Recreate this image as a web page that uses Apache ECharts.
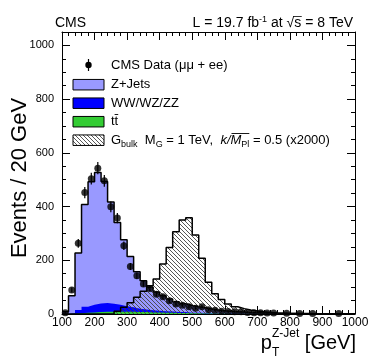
<!DOCTYPE html>
<html>
<head>
<meta charset="utf-8">
<title>Z+Jet pT</title>
<script src="https://cdn.jsdelivr.net/npm/echarts@6/dist/echarts.min.js"></script>
<style>
  html, body { margin: 0; padding: 0; background: #fff; }
  #chart { width: 374px; height: 360px; }
</style>
</head>
<body>
<div id="chart"></div>
<script>
// 20 GeV bins, low edges plus the closing edge at 1000
var binEdges = [100, 120, 140, 160, 180, 200, 220, 240, 260, 280,
  300, 320, 340, 360, 380, 400, 420, 440, 460, 480,
  500, 520, 540, 560, 580, 600, 620, 640, 660, 680,
  700, 720, 740, 760, 780, 800, 820, 840, 860, 880,
  900, 920, 940, 960, 980, 1000]

// backgrounds, stacked bottom to top: ttbar, diboson, Z+jets
var ttbar = [0, 1, 3, 5, 6, 7, 8, 8, 8, 8,
  8, 7, 7, 6, 6, 5, 5, 4, 4, 3,
  3, 2, 2, 2, 1.5, 1, 1, 0.8, 0.7, 0.6,
  0.5, 0.4, 0.3, 0.3, 0.2, 0.2, 0.2, 0.1, 0.1, 0.1,
  0.1, 0.1, 0.1, 0.1, 0.1]
var diboson = [0, 3, 12, 22, 28, 32, 33, 30, 26, 21,
  17, 13, 10, 8, 6, 5, 4, 3, 3, 2,
  2, 1.5, 1, 1, 0.8, 0.7, 0.6, 0.5, 0.4, 0.4,
  0.3, 0.3, 0.2, 0.2, 0.2, 0.2, 0.1, 0.1, 0.1, 0.1,
  0.1, 0.1, 0.1, 0.1, 0.1]
var zjets = [8, 64, 212, 381, 458, 488, 452, 379, 307, 247,
  189, 137, 107, 86, 70, 58, 47, 39, 31, 27,
  22, 19.5, 16, 12, 9.7, 8.3, 6.4, 5.7, 4.9, 4,
  3.2, 2.8, 2.5, 2, 1.6, 1.6, 1.2, 1.2, 1.0, 0.8,
  0.8, 0.6, 0.5, 0.5, 0.4]
// bulk graviton, M = 1 TeV, scaled x2000
var signal = [0, 0, 0, 0, 0, 0, 0, 0, 10, 25,
  42, 62, 85, 105, 130, 186, 248, 306, 350, 358,
  294, 208, 118, 75, 54, 37, 27, 20, 15, 11,
  8, 6, 4, 3, 2, 2, 1, 1, 1, 0.5,
  0.5, 0.5, 0.3, 0.3, 0.2]

// CMS data points (bin centres), with their error bars
var dataX = [110, 130, 150, 170, 190, 210, 230, 250, 270, 290,
  310, 330, 350, 370, 390, 410, 430, 450, 470, 490,
  510, 530, 550, 570, 590, 610, 630, 650, 670, 690,
  710, 730, 750, 790, 830, 870, 950]
var dataY = [5, 89, 263, 452, 504, 543, 496, 399, 357, 254,
  177, 142, 112, 95, 74, 64, 49, 37, 33, 27,
  21, 27, 16, 14, 10, 9, 8, 8, 6, 5,
  5, 4, 4, 3, 2, 2, 2]
var dataErr = [2.2, 9.4, 16, 21, 22, 23, 22, 20, 19, 16,
  13, 12, 11, 10, 8.6, 8, 7, 6, 5.7, 5.2,
  4.6, 5.2, 4, 3.7, 3.2, 3, 2.8, 2.8, 2.4, 2.2,
  2.2, 2, 2, 1.7, 1.4, 1.4, 1.4]

var FONT = 'Liberation Sans'
var measureCtx = document.createElement('canvas').getContext('2d')
function textWidth (str, size, style) {
  measureCtx.font = (style || 'normal') + ' ' + size + 'px "' + FONT + '"'
  return measureCtx.measureText(str).width
}

// step-line points for a histogram, summing the given components per bin
function stepData (comps) {
  let pts = []
  let n = comps[0].length
  let v = 0
  for (let i = 0; i < n; i++) {
    v = 0
    comps.forEach(function (c) { v += c[i] })
    pts.push([binEdges[i], v])
  }
  pts.push([binEdges[n], v])
  return pts
}

// diagonal hatch used for the signal
var hatch = document.createElement('canvas')
hatch.width = 4
hatch.height = 4
var hc = hatch.getContext('2d')
hc.strokeStyle = '#444'
hc.lineWidth = 0.9
hc.beginPath()
hc.moveTo(-1, -1); hc.lineTo(5, 5)
hc.moveTo(-1, 3); hc.lineTo(1, 5)
hc.moveTo(3, -1); hc.lineTo(5, 1)
hc.stroke()
var hatchFill = {image: hatch, repeat: 'repeat'}

function txt (x, y, s, size, extra) {
  let style = {x: x, y: y, text: s, fontSize: size, fontFamily: FONT, fill: '#000',
    align: 'left', verticalAlign: 'middle'}
  if (extra) {
    for (let k in extra) style[k] = extra[k]
  }
  return {type: 'text', z: 100, style: style}
}
function hline (x1, x2, y, w) {
  return {type: 'line', z: 100, shape: {x1: x1, y1: y, x2: x2, y2: y}, style: {stroke: '#000', lineWidth: w || 1}}
}

// lay out pieces left to right: {t, size, dy, style}
function textRun (x, y, parts) {
  let out = []
  let pos = []
  for (let i = 0; i < parts.length; i++) {
    let p = parts[i]
    pos.push(x)
    out.push(txt(x, y + (p.dy || 0), p.t, p.size, p.style ? {fontStyle: p.style} : null))
    x += textWidth(p.t, p.size, p.style)
  }
  return {els: out, pos: pos, end: x}
}

var graphics = []

// header
graphics.push(txt(55, 23.5, 'CMS', 14))
var lumiParts = [
  {t: 'L = 19.7 fb', size: 14},
  {t: '-1', size: 9, dy: -4},
  {t: ' at √s = 8 TeV', size: 14}
]
var lumiW = 0
lumiParts.forEach(function (p) { lumiW += textWidth(p.t, p.size) })
var lumi = textRun(353 - lumiW, 23.5, lumiParts)
graphics = graphics.concat(lumi.els)
var sStart = lumi.pos[2] + textWidth(' at √', 14)
graphics.push(hline(sStart - 1, sStart + textWidth('s', 14) + 0.5, 16.5, 0.8))

// legend
var legX = 73, legW = 31, legH = 10.5, legText = 111
graphics.push({type: 'line', z: 100, shape: {x1: 88.5, y1: 59, x2: 88.5, y2: 71}, style: {stroke: '#000', lineWidth: 1.2}})
graphics.push({type: 'circle', z: 100, shape: {cx: 88.5, cy: 65, r: 3.2}, style: {fill: '#000'}})
graphics.push(txt(legText, 65, 'CMS Data (μμ + ee)', 13))
var boxes = [
  {y: 84.7, fill: '#9999ff', label: 'Z+Jets'},
  {y: 103.2, fill: '#0000ff', label: 'WW/WZ/ZZ'},
  {y: 121.7, fill: '#33cc33', label: 'tt'},
  {y: 140.2, fill: hatchFill, label: null}
]
boxes.forEach(function (b) {
  graphics.push({type: 'rect', z: 100, shape: {x: legX, y: b.y - legH / 2, width: legW, height: legH},
    style: {fill: b.fill, stroke: '#000', lineWidth: 1}})
  if (b.label) graphics.push(txt(legText, b.y, b.label, 13))
})
var t1 = legText + textWidth('t', 13)
graphics.push(hline(t1, t1 + textWidth('t', 13), 114.5, 0.9))

var gParts = [
  {t: 'G', size: 13},
  {t: 'bulk', size: 9, dy: 4.5},
  {t: '  M', size: 13},
  {t: 'G', size: 9, dy: 4.5},
  {t: ' = 1 TeV,  ', size: 13},
  {t: 'k/M', size: 13, style: 'italic'},
  {t: 'Pl', size: 9, dy: 4.5},
  {t: ' = 0.5 (x2000)', size: 13}
]
var gRun = textRun(legText, 140.2, gParts)
graphics = graphics.concat(gRun.els)
var mStart = gRun.pos[5] + textWidth('k/', 13, 'italic') + 1
graphics.push(hline(mStart, gRun.pos[7], 133.5, 0.9))

// axis titles
graphics.push({type: 'text', z: 100, x: 20, y: 178, rotation: Math.PI / 2,
  style: {text: 'Events / 20 GeV', fontSize: 22, fontFamily: FONT, fill: '#000', align: 'center', verticalAlign: 'middle'}})
var wp = textWidth('p', 20)
var wsup = textWidth('Z-Jet', 12)
var wgev = textWidth(' [GeV]', 20)
var xt0 = 356 - (wp + wsup + wgev)
graphics.push(txt(xt0, 343, 'p', 20))
graphics.push(txt(xt0 + wp, 352.5, 'T', 12))
graphics.push(txt(xt0 + wp, 334, 'Z-Jet', 12))
graphics.push(txt(xt0 + wp + wsup, 343, ' [GeV]', 20))

function frameAxis (pos, isX, labels) {
  let ax = {
    type: 'value',
    position: pos,
    axisLine: {show: true, onZero: false, lineStyle: {color: '#000', width: 1}},
    axisTick: {show: true, inside: true, length: 8, lineStyle: {color: '#000', width: 1}},
    minorTick: {show: true, splitNumber: isX ? 5 : 4, length: 4, lineStyle: {color: '#000', width: 1}},
    splitLine: {show: false},
    axisLabel: {show: labels, color: '#000', fontFamily: FONT, fontSize: isX ? 12 : 11,
      margin: isX ? 3 : 8, showMaxLabel: isX,
      formatter: function (v) { return String(v) }}
  }
  if (isX) {
    ax.min = 100; ax.max = 1000; ax.interval = 100
  } else {
    ax.min = 0; ax.max = 1050; ax.interval = 200
  }
  return ax
}

function histSeries (name, comps, fill, outline, z) {
  return {
    name: name, type: 'line', step: 'end', data: stepData(comps),
    symbol: 'none', showSymbol: false, z: z,
    lineStyle: outline ? {color: '#000', width: 1.5} : {width: 0, opacity: 0},
    areaStyle: {color: fill, opacity: 1, origin: 'start'}
  }
}

var chart = echarts.init(document.getElementById('chart'), null, {renderer: 'canvas'})
chart.setOption({
  animation: false,
  backgroundColor: '#fff',
  textStyle: {fontFamily: FONT},
  grid: {left: 62, right: 19, top: 32, bottom: 46},
  xAxis: [frameAxis('bottom', true, true), frameAxis('top', true, false)],
  yAxis: [frameAxis('left', false, true), frameAxis('right', false, false)],
  graphic: graphics,
  series: [
    histSeries('Z+Jets', [ttbar, diboson, zjets], '#9999ff', true, 2),
    histSeries('WW/WZ/ZZ', [ttbar, diboson], '#0000ff', false, 2),
    histSeries('ttbar', [ttbar], '#33cc33', false, 2),
    histSeries('Gbulk', [signal], hatchFill, true, 3),
    {
      name: 'err', type: 'custom', z: 5,
      data: dataX.map(function (x, i) { return [x, dataY[i], dataErr[i]] }),
      encode: {x: 0, y: 1},
      renderItem: function (params, api) {
        let x = api.value(0)
        let y = api.value(1)
        let e = api.value(2)
        let lo = api.coord([x, Math.max(y - e, 0)])
        let hi = api.coord([x, y + e])
        return {type: 'line', shape: {x1: lo[0], y1: lo[1], x2: hi[0], y2: hi[1]},
          style: {stroke: '#000', lineWidth: 1.2}}
      }
    },
    {
      name: 'CMS Data', type: 'scatter', z: 6,
      data: dataX.map(function (x, i) { return [x, dataY[i]] }),
      symbol: 'circle', symbolSize: 7, itemStyle: {color: '#000'}
    }
  ]
})
</script>
</body>
</html>
